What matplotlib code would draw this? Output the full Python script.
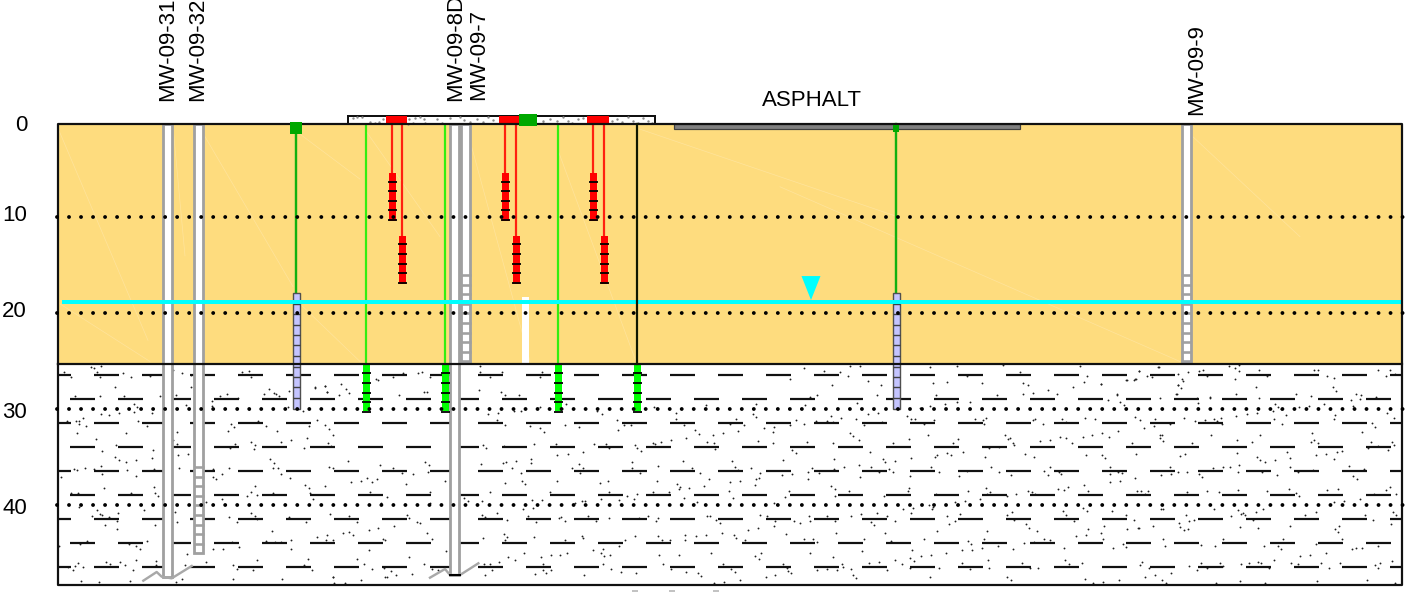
import numpy as np
import matplotlib
matplotlib.use("Agg")
import matplotlib.pyplot as plt

plt.rcParams['font.family'] = ['Liberation Sans', 'DejaVu Sans']
plt.rcParams['lines.scale_dashes'] = False

# section geometry, x is station along the section, y is depth in ft
x_left, x_right = 58, 1402
ground = 0.26
clay_top = 25.26
section_bottom = 48.28
water_depth = 18.75
water_x = 811
grid_depths = [10, 20, 30, 40]
clay_rows_a = [26.4, 31.4, 36.4, 41.4, 46.4]
clay_rows_b = [28.9, 33.9, 38.9, 43.9]

axis_labels = ['0', '10', '20', '30', '40']
axis_label_depths = [0.4, 9.75, 19.75, 30.3, 40.3]

# monitoring wells
well_names = ['MW-09-31', 'MW-09-32', 'MW-09-8D', 'MW-09-7', 'MW-09-9']
well_x = [167, 198.5, 454.5, 465.5, 1186]
well_bottom = [47.45, 44.95, 47.24, 25.15, 25.15]
well_screen_top = [None, 36, None, 16, 16]
name_x = [168, 198, 456, 479, 1197]
name_depth = [-2.1, -2.1, -2.1, -2.2, -0.68]

# probes
purple_x = [296, 896]
purple_cap = [12, 6]
purple_cap_top = [0.05, 0.36]
purple_cap_bottom = [1.3, 1.1]
purple_top = 17.86
purple_bottom = 29.95
purple_rungs = [19.0, 20.05, 21.15, 22.25, 23.3, 24.4, 25.55, 26.65, 27.7, 28.8]

green_x = [366, 445, 558, 637]
green_line = ['#33ee11', '#33ee11', '#33ee11', '#101800']
green_top = 25.3
green_bottom = 30.2
green_ticks = [26.25, 27.25, 28.25, 29.25, 30.25]

red_shallow_x = [392, 505, 593]
red_deep_x = [402, 516, 604]
red_shallow = (5.36, 10.36)
red_deep = (11.93, 16.93)
red_shallow_ticks = [6.25, 7.25, 8.25, 9.25, 10.25]
red_deep_ticks = [12.8, 13.8, 14.8, 15.8, 16.8]

slab_x = (348, 655)
slab_depth = (-0.55, 0.26)
red_pads = [(386, 407), (499, 520), (587, 609)]
green_pad = (519, 537)
asphalt_x = (674, 1020)
asphalt_depth = (0.26, 0.78)

# faint streaks in the sand: x0, depth0, x1, depth1
streaks = [(58, 0.7, 148, 22.8), (204, 1.4, 293, 17.2), (173, 0.5, 185, 14),
           (780, 6.8, 1180, 25.0), (366, 1, 440, 12), (470, 2, 530, 25),
           (640, 0.8, 900, 10), (1192, 1.5, 1300, 12), (296, 1, 360, 6),
           (558, 3, 636, 25), (300, 19, 360, 25), (60, 19, 150, 25)]

stipple_crops = [
    (40, 360, [(72,35),(152,22),(163,25),(182,17),(172,35),(180,50),(93,52),(248,38),(272,52),(330,48),(224,80),(105,108),(180,108),(253,108),(360,107),(281,131),(291,142),(283,155),(236,160),(184,162),(206,164),(335,160),(82,182),(108,184),(116,182),(128,175),(118,193),(139,197),(295,182),(320,197),(110,218),(257,220),(168,238),(228,254),(186,273),(338,271),(336,295),(226,291),(236,301),(259,306),(289,301),(182,317),(103,327),(112,329),(134,323),(162,326),(186,341),(261,331),(341,326),(287,347),(63,351),(192,384),(341,382),(344,399),(354,409),(94,398),(113,398),(273,398),(122,436),(117,441),(170,450),(181,461),(187,464),(157,469),(208,471),(234,459),(232,484),(194,495),(231,506),(345,494),(312,449),(140,543),(120,552),(267,552),(288,558),(299,568),(320,543),(58,557),(115,608),(104,617),(130,621),(85,622),(100,630),(197,606),(209,611),(240,607),(254,615),(287,601),(349,604),(348,614),(278,630),(55,631),(124,663),(176,665),(271,664),
                (398,30),(427,38),(453,45),(454,82),(408,104),(437,134),(412,215),(400,240),(410,252),(415,286),(444,282),(416,325),(404,456),(412,486),(442,581),(434,615),(426,658),(407,665),(497,605),(580,616),(590,626),(652,600),(640,630),(578,656),(725,657),(803,598),(793,615),(817,630),(880,652),
                (607,37),(628,32),(632,52),(688,88),(672,103),(703,98),(708,102),(718,107),(748,93),(540,107),(560,102),(594,114),(516,124),(516,137),(628,148),(745,142),(788,154),(654,182),(574,192),(582,200),(564,212),(678,197),(710,213),(806,197),(832,181),(856,196),(866,208),(880,225),(754,241),(724,245),(632,246),(646,255),(642,267),(586,253),(570,265),(800,235),(792,265),(864,248),(874,258),(690,298),(701,308),(700,325),(714,325),(724,341),(750,354),(566,323),(520,327),(518,350),(528,358),(546,342),(644,378),(632,397),(622,407),(652,404),(698,398),(796,376),(808,384),(810,398),(818,416),(854,378),(545,418),(497,425),(634,458),(645,467),(567,470),(590,485),(650,478),(746,470),(798,487),(869,463),(696,513),(678,542),(704,546),(722,546),(752,540),(575,546),(550,566),(520,568),(598,560),(830,530),(860,525),(858,540),(878,540),(752,566),(826,83),(856,78),(862,97),(868,320),(878,325)]),
    (480, 400, [(25,43),(54,39),(101,32),(124,32),(180,22),(257,13),(352,33),(365,43),(522,20),(588,40),(678,15),(828,13),(820,42),(829,50),(51,59),(74,75),(150,79),(181,84),(191,95),(254,74),(297,80),(410,59),(432,74),(453,74),(415,90),(588,58),(612,74),(644,91),(656,101),(698,104),(728,100),(768,58),(751,73),(793,74),(774,94),(853,83),(883,80),(878,97),(8,135),(18,145),(72,139),(162,131),(228,133),(232,165),(263,161),(309,155),(342,131),(379,131),(388,145),(464,134),(472,143),(482,152),(520,130),(526,132),(543,125),(573,120),(619,114),(682,126),(701,130),(706,147),(833,124),(880,129),(3,191),(69,190),(78,185),(108,182),(97,204),(122,219),(154,176),(154,190),(277,203),(298,193),(310,203),(301,219),(457,185),(456,204),(480,218),(533,198),(608,183),(635,203),(660,218),(755,184),(764,200),(774,210),(814,203),(839,218),(76,250),(126,243),(136,253),(232,244),(360,248),(383,242),(530,243),(590,251),(600,260),(596,266),(626,263),(672,257),(686,237),(750,246),(781,242),(828,236),(836,235),(824,256),(30,275),(209,275),(388,275),(440,287),(470,283),(518,277),(567,275),(747,274),(758,295),(362,297),(461,296),(417,301),(612,294),(7,303),(157,301),(186,299),(285,308),(306,302),(316,303),(425,314),(650,306),(882,309),(130,328),(160,324),(52,339),(5,344),(14,350),(80,360),(144,348),(168,365),(236,354),(244,351),(255,362),(324,348),(348,363),(387,353),(478,355),(503,348),(533,353),(527,363),(682,347),(690,348),(708,360),(719,369),(840,346),(861,348),(886,362),(881,378),(804,389),(834,384),(726,398),(10,413),(71,402),(81,411),(76,420),(162,411),(255,420),(305,407),(309,413),(435,420),(465,407),(535,409),(546,420),(571,420),(615,405),(614,419),(649,408),(679,405),(762,406),(769,413),(794,420),(417,439),(339,450),(369,446),(363,460),(373,469),(390,464),(131,459),(84,471),(105,481),(184,470),(214,466),(240,466),(261,460),(537,464),(596,464),(693,460),(826,467),(844,458),(837,477),(12,492),(29,491),(58,487),(35,509),(190,492),(188,510),(214,509),(165,522),(199,520),(14,525),(312,524),(369,491),(394,508),(423,516),(467,519),(549,491),(573,507),(618,516),(653,518),(663,527),(729,491),(753,507),(766,517),(779,541),(732,546),(702,550),(857,530),(886,524)]),
    (780, 400, [(76,15),(232,8),(263,43),(293,38),(152,47),(184,54),(227,58),(47,59),(72,73),(30,74),(108,64),(140,62),(158,66),(252,74),(305,66),(382,47),(393,58),(406,58),(431,73),(461,60),(444,104),(420,24),(449,18),(494,12),(570,5),(530,7),(617,54),(610,60),(612,72),(586,58),(758,60),(765,56),(789,72),(847,56),(858,66),(914,54),(210,99),(220,108),(236,120),(80,125),(159,129),(338,129),(387,118),(518,128),(533,118),(36,149),(47,160),(270,155),(674,105),(690,113),(684,117),(698,128),(703,134),(781,124),(811,120),(840,111),(858,115),(877,128),(908,111),(627,143),(657,140),(548,155),(501,158),(512,166),(470,165),(465,171),(735,161),(762,170),(615,170),(918,165),(10,179),(162,177),(309,177),(316,185),(346,182),(393,175),(96,205),(83,215),(36,221),(6,226),(84,237),(118,218),(161,206),(191,201),(238,195),(240,230),(273,202),(297,217),(327,207),(338,217),(390,228),(453,201),(477,217),(537,229),(561,212),(632,201),(657,217),(692,225),(792,214),(803,225),(811,201),(836,217),(844,222),(27,273),(14,290),(154,257),(165,267),(165,287),(206,273),(312,288),(388,263),(385,273),(467,283),(565,273),(619,264),(630,275),(620,282),(601,297),(709,283),(743,272),(755,276),(766,283),(680,287),(834,267),(853,270),(864,262),(911,256),(923,273),(525,307),(555,303),(530,315),(207,315),(369,327),(399,323),(446,316),(460,320),(456,326),(674,315),(910,323),(921,332),(848,333),(858,345),(88,348),(141,348),(42,364),(59,369),(89,364),(165,362),(214,348),(244,343),(291,338),(320,347),(345,362),(394,340),(272,366),(283,376),(500,347),(541,341),(524,362),(507,372),(680,346),(697,335),(703,361),(883,362),(737,373),(747,383),(770,393),(622,392),(472,394),(17,401),(168,398),(316,399),(925,386),(73,418),(100,417),(110,426),(252,418),(333,422),(432,418),(563,424),(574,433),(577,449),(545,451),(612,418),(654,438),(607,445),(700,446),(732,428),(763,425),(791,418),(809,419),(888,408),(917,405),(851,443),(90,458),(246,452),(397,451),(499,459),(160,472),(345,480),(390,474),(401,484),(422,469),(452,465),(8,491),(23,512),(34,520),(20,504),(187,492),(188,500),(112,509),(142,506),(172,509),(267,490),(297,485),(320,509),(366,491),(391,505),(212,507),(218,524),(228,534),(476,505),(546,490),(570,506),(625,480),(627,503),(725,490),(750,505),(773,503),(855,481),(866,491),(905,490),(451,530),(682,531),(692,541),(915,536)]),
    (1090, 360, [(147,32),(207,21),(263,41),(293,36),(326,32),(339,30),(418,19),(436,23),(447,15),(447,33),(435,56),(506,31),(671,29),(685,31),(865,31),(901,31),(888,47),(914,42),(172,47),(185,50),(109,61),(132,61),(138,56),(278,62),(264,74),(274,84),(32,72),(497,80),(352,48),(531,47),(710,47),(732,55),(728,81),(738,92),(80,103),(54,120),(90,125),(101,134),(209,115),(259,103),(360,113),(438,103),(507,113),(618,102),(663,108),(782,121),(797,102),(813,106),(811,117),(858,111),(703,131),(324,130),(555,132),(564,142),(548,153),(574,147),(628,141),(656,137),(788,137),(438,167),(472,162),(501,158),(589,165),(736,166),(732,176),(892,160),(911,175),(14,177),(135,172),(151,181),(162,203),(194,177),(191,199),(239,193),(282,173),(316,183),(346,179),(372,176),(380,183),(393,173),(396,191),(552,176),(577,191),(845,189),(856,200),(6,224),(36,219),(57,232),(83,213),(211,226),(216,225),(209,234),(219,243),(364,224),(442,239),(485,247),(511,225),(126,248),(306,248),(667,219),(671,240),(664,246),(683,250),(817,217),(843,246),(907,245),(911,254),(865,259),(895,271),(35,284),(45,294),(138,283),(269,288),(286,283),(441,279),(500,291),(510,300),(524,305),(554,300),(592,276),(601,295),(679,284),(709,281),(733,296),(740,277),(756,273),(833,264),(60,321),(61,342),(84,337),(95,340),(135,355),(59,366),(89,362),(214,345),(240,321),(244,341),(264,336),(291,335),(326,341),(337,351),(369,324),(399,321),(419,321),(446,315),(444,336),(515,336),(560,346),(599,320),(624,336),(670,330),(778,319),(821,327),(790,348),(801,358),(142,394),(152,392),(164,401),(173,392),(290,395),(352,392),(386,397),(445,389),(531,392),(596,387),(617,399),(628,409),(711,391),(743,387),(810,416),(852,403),(889,391),(899,382),(917,402),(65,453),(213,448),(220,448),(371,446),(444,450),(453,462),(458,458),(466,465),(423,467),(499,457),(518,447),(646,464),(678,455),(732,426),(762,422),(108,465),(131,481),(288,465),(297,483),(311,480),(267,488),(490,481),(849,479),(825,464),(908,455),(918,465),(41,497),(34,519),(40,536),(112,507),(143,503),(147,505),(189,497),(271,500),(282,509),(294,507),(449,500),(505,505),(600,497),(735,506),(746,498),(745,517),(903,493),(219,536),(224,559),(99,551),(108,560),(68,564),(332,555),(375,557),(399,536),(522,557),(563,557),(578,536),(572,567),(678,551),(757,536),(786,567),(797,563),(816,564),(863,558),(708,578),(631,589),(660,584),(552,599),(150,615),(157,606),(178,624),(297,617),(321,629),(333,608),(352,625),(390,608),(400,619),(453,611),(476,608),(505,605),(512,608),(537,624),(603,608),(623,613),(692,608),(716,624),(751,609),(855,615),(864,624),(871,608),(906,604),(165,650),(195,645),(215,659),(243,639),(87,660),(40,665),(10,669),(228,668),(378,668),(450,664),(525,668),(681,664),(832,660),(915,670)]),
    (130, 440, [(654,63),(750,76),(788,84),(816,100),(848,102),(884,65),(896,75),(894,97),(945,122),(662,126),(692,123),(711,115),(725,127),(740,116),(828,132),(720,155),(772,172),(900,155),(754,188),(900,188),(1003,175),(1013,183),(656,228),(680,246),(792,258),(832,226),(838,233),(860,245),(870,248),(744,264),(716,269),(658,275),(668,285),(638,280),(716,330),(758,298),(766,300),(890,280),(906,298),(948,332),(836,352),(680,358),(702,373),(726,388),(762,385),(784,392),(798,406),(764,410),(770,410),(846,402),(882,372),(906,388),(925,390),(692,421),(644,428),(612,428),(610,411)]),
    (270, 250, [(398,368),(368,382),(445,370),(455,365),(480,380),(630,347),(630,367),(659,380),(696,366),(212,402),(228,418),(238,430),(166,408),(172,426),(136,412),(207,436),(387,436),(462,425),(472,425),(318,388),(324,390),(626,420),(692,425),(704,436),(746,436),(815,365),(811,380)]),
    (780, 90, [(72,835),(132,842),(210,828),(240,828),(180,845),(205,858),(30,868),(450,830),(530,828),(670,826),(900,828),(1135,832),(1077,842),(1065,868),(1040,870),(920,858),(720,845),(560,858),(155,885),(265,872),(302,885),(458,880),(500,875),(607,878),(730,880),(745,885),(880,890),(912,875),(962,882),(1195,885),(1205,868),(292,915),(90,920),(110,915),(468,915),(650,915),(805,900),(830,912),(760,908),(728,912),(1010,915),(1190,912),(1290,922),(1250,925)]),
]

# grey specks in the concrete slab, same crop convention
speck_crops = [
    (130, 0, [(670,353),(682,352),(696,352),(720,366),(735,368),(748,366),(760,356),(838,358),(855,354),(870,352),(882,356),(885,368),(850,368),(920,358),(935,368),(960,355),(990,352),(1003,360),(1020,366),(1040,358),(1060,365),(1075,352),(1090,360),(835,372)]),
    (500, 100, [(130,62),(150,58),(170,62),(190,52),(205,62),(215,68),(235,58),(250,55),(130,68),(335,62),(350,58),(365,66),(385,52),(400,62),(415,68),(430,55),(445,62),(455,68)]),
]

# casing break marks at the bottom of the deep wells, in the same crop convention
break_31 = (40, 360, [(310,662),(350,636),(365,650),(395,655),(455,618)])
break_8d = (130, 440, [(900,413),(945,387),(960,405),(990,405),(1045,370)])

W, H = 1405, 592
PX_PER_FT = 9.6
DEPTH_ZERO = 121.5


def px_to_depth(py):
    return (np.asarray(py, dtype=float) - DEPTH_ZERO) / PX_PER_FT


def crop_points(crops):
    xs, ys = [], []
    for cx, cy, pts in crops:
        arr = np.array(pts, dtype=float)
        xs.append(cx + arr[:, 0] / 3)
        ys.append(px_to_depth(cy + arr[:, 1] / 3))
    return np.concatenate(xs), np.concatenate(ys)


def pt(px):
    return px * 0.72


def block(x0, x1, d0, d1, **kw):
    ax.bar((x0 + x1) / 2, d1 - d0, width=x1 - x0, bottom=d0, **kw)


fig = plt.figure(figsize=(W / 100, H / 100), dpi=100)
ax = fig.add_axes([0, 0, 1, 1])
ax.set_xlim(0, W)
ax.set_ylim(px_to_depth(H), px_to_depth(0))
ax.axis('off')

# soil units
block(x_left, x_right, ground, clay_top, color='#FEDC7E', lw=0, zorder=1)
for x0, d0, x1, d1 in streaks:
    ax.plot([x0, x1], [d0, d1], color='#FFE49C', lw=0.5, zorder=1.1)

sx, sy = crop_points(stipple_crops)
keep = (sx > x_left + 1) & (sx < x_right - 1) & (sy > clay_top) & (sy < section_bottom)
ax.scatter(sx[keep], sy[keep], s=1.8, color='#202020', lw=0, zorder=1.5)

for rows, offset in ((clay_rows_a, 12), (clay_rows_b, 36)):
    for d in rows:
        ax.plot([x_left, x_right], [d, d], color='#111111', lw=pt(2.2),
                ls=(pt(offset), (pt(25), pt(23))), dash_capstyle='butt', zorder=2)

# wells
for x, bot, scr in zip(well_x, well_bottom, well_screen_top):
    block(x - 4.5, x + 4.5, ground, bot, facecolor='white', edgecolor='#A0A0A0', lw=pt(2.8), zorder=3)
    if scr is not None:
        ax.hlines(np.arange(scr, bot, 1.0), x - 5, x + 5, color='#A0A0A0', lw=pt(2.6), zorder=3.1)
for name, x, d in zip(well_names, name_x, name_depth):
    ax.text(x, d, name, rotation=90, ha='center', va='bottom', fontsize=16, color='black', zorder=8)
for crop in (break_31, break_8d):
    bx, by = crop_points([crop])
    ax.plot(bx, by, color='#A8A8A8', lw=pt(2.4), zorder=3.2)
ax.plot([450, 460], px_to_depth([575, 575]), color='black', lw=pt(2), zorder=3.3)

# white strip under the water table
block(522, 529, px_to_depth(297), clay_top, color='white', lw=0, zorder=3)

# green probes
for x, c in zip(green_x, green_line):
    ax.plot([x, x], [ground, clay_top], color=c, lw=pt(2.2), zorder=6 if c == '#101800' else 4)
    block(x - 3.5, x + 3.5, green_top, green_bottom, color='#00FF00', lw=0, zorder=4)
    ax.hlines(green_ticks, x - 4.5, x + 4.5, color='black', lw=pt(1.8), zorder=4.1)

# red probes
for xs_, (d0, d1), ticks in ((red_shallow_x, red_shallow, red_shallow_ticks),
                             (red_deep_x, red_deep, red_deep_ticks)):
    for x in xs_:
        ax.plot([x, x], [ground, d0], color='#FF2010', lw=pt(2.2), zorder=4)
        block(x - 3.5, x + 3.5, d0, d1, color='#FF0000', lw=0, zorder=4)
        ax.hlines(ticks, x - 4.5, x + 4.5, color='black', lw=pt(1.8), zorder=4.1)

# deep purple probes
for x, cap, cap_t, cap_b in zip(purple_x, purple_cap, purple_cap_top, purple_cap_bottom):
    ax.plot([x, x], [ground, purple_top], color='#12B010', lw=pt(2.4), zorder=4)
    block(x - 3.5, x + 3.5, purple_top, purple_bottom, facecolor='#C4C4FF', edgecolor='#505050', lw=pt(1.4), zorder=4)
    ax.hlines(purple_rungs, x - 3.5, x + 3.5, color='#404040', lw=pt(1.4), zorder=4.1)
    block(x - cap / 2, x + cap / 2, cap_t, cap_b, color='#00A800', lw=0, zorder=5.4)

# water table
ax.plot([62, x_right], [water_depth, water_depth], color='#00FFFF', lw=pt(4),
        solid_capstyle='butt', zorder=5)
ax.fill([water_x - 9.5, water_x + 9.5, water_x], [16.1, 16.1, 18.6], color='#00FFFF', lw=0, zorder=5)

# surface cover
block(asphalt_x[0], asphalt_x[1], asphalt_depth[0], asphalt_depth[1], facecolor='#808080',
      edgecolor='#404040', lw=pt(1.2), zorder=5)
ax.text(812, px_to_depth(100), 'ASPHALT', ha='center', va='center', fontsize=16, color='black', zorder=8)
block(slab_x[0], slab_x[1], slab_depth[0], slab_depth[1], facecolor='white', edgecolor='#111111',
      lw=pt(2), zorder=5)
kx, ky = crop_points(speck_crops)
ax.scatter(kx, ky, s=3, color='#8C8C8C', lw=0, zorder=5.1)
for x0, x1 in red_pads:
    block(x0, x1, slab_depth[0], ground, color='#FF0000', lw=0, zorder=5.2)
block(green_pad[0], green_pad[1], px_to_depth(114), px_to_depth(125.5), color='#00A800', lw=0, zorder=5.3)

# frame
ax.plot([x_left, x_left, x_right, x_right, x_left, x_left],
        [clay_top, ground, ground, section_bottom, section_bottom, clay_top],
        color='#111111', lw=pt(2.2), zorder=5.2)
ax.plot([x_left, x_right], [clay_top, clay_top], color='#111111', lw=pt(2.2), zorder=5.2)

# dotted grid
for d in grid_depths:
    ax.plot([57, x_right + 3], [d, d], color='black', lw=pt(3.9), ls=(0, (0.01, pt(12))),
            dash_capstyle='round', zorder=7)

for lab, d in zip(axis_labels, axis_label_depths):
    ax.text(27, d, lab, ha='right', va='center', fontsize=16, color='black', zorder=8)

# tops of cut-off lettering at the lower edge
cut_x0 = [632, 669, 713]
cut_x1 = [638, 675, 719]
ax.hlines([px_to_depth(591)] * 3, cut_x0, cut_x1, color='#B0B0B0', lw=pt(1.5))

fig.savefig('out.png', dpi=100)
